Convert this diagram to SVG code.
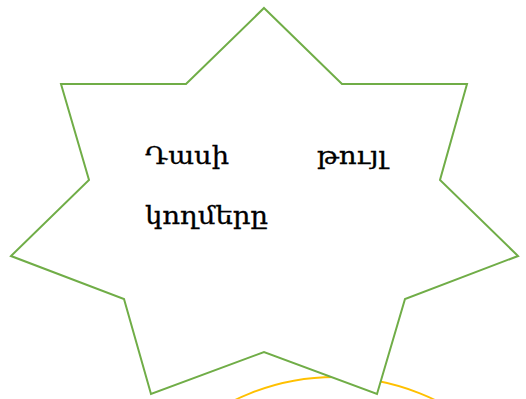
<svg xmlns="http://www.w3.org/2000/svg" width="526" height="399" viewBox="0 0 526 399">
<style>
.t{font-family:"DejaVu Serif","DejaVu Sans","Noto Sans",serif;font-size:25px;fill:#000;stroke:#000;stroke-width:0.3}
</style>
<rect width="526" height="399" fill="#fff"/>
<g id="circle">
<circle cx="335" cy="606" r="229" fill="none" stroke="#FFC000" stroke-width="1.8"/>
</g>
<g id="star">
<polygon points="264,8 342,84 467,84 440,180 518,256 405,299 377,394 264,352 151,394 124,299 11,256 89,180 61,84 186,84" fill="#fff" stroke="#70AD47" stroke-width="2"/>
<text class="t" x="145" y="164" textLength="84" lengthAdjust="spacingAndGlyphs">Դասի</text>
<text class="t" x="317" y="164" textLength="70" lengthAdjust="spacingAndGlyphs">թույլ</text>
<text class="t" x="145" y="224" textLength="123" lengthAdjust="spacingAndGlyphs">կողմերը</text>
</g>
</svg>
